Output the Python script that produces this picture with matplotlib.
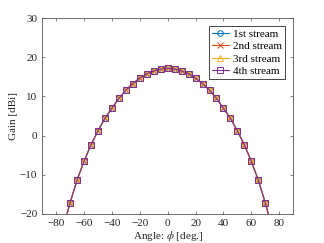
import numpy as np
import matplotlib
matplotlib.use("Agg")
import matplotlib.pyplot as plt

plt.rcParams['font.family'] = ['Liberation Serif', 'DejaVu Serif']
plt.rcParams['mathtext.fontset'] = 'stix'

angle = [-75, -70, -65, -60, -55, -50, -45, -40, -35, -30, -25, -20, -15, -10, -5, 0,
         5, 10, 15, 20, 25, 30, 35, 40, 45, 50, 55, 60, 65, 70, 75]
half = [-23.8, -17.2, -11.4, -6.6, -2.4, 1.2, 4.4, 7.0, 9.5, 11.6, 13.3, 14.7, 15.8, 16.5, 17.0]
gain1 = half + [17.2] + half[::-1]
gain2 = list(gain1)
gain3 = list(gain1)
gain4 = list(gain1)

labels = ['1st stream', '2nd stream', '3rd stream', '4th stream']
colors = ['#0072BD', '#D95319', '#EDB120', '#7E2F8E']
markers = ['o', 'x', '^', 's']

fig = plt.figure(figsize=(3.24, 2.43), dpi=100)
ax = fig.add_axes([0.13, 0.12, 0.775, 0.805])

for g, lab, c, m in zip([gain1, gain2, gain3, gain4], labels, colors, markers):
    ax.plot(angle, g, color=c, marker=m, markersize=4, linewidth=0.8,
            markerfacecolor='none', markeredgewidth=0.7, label=lab)

ax.set_xlim(-90, 90)
ax.set_ylim(-20, 30)
ax.set_xticks(np.arange(-80, 81, 20))
ax.set_yticks(np.arange(-20, 31, 10))
ax.tick_params(labelsize=8, direction='in', length=2.5, width=0.5, top=True, right=True,
               color='#555555', labelcolor='#262626')
for s in ax.spines.values():
    s.set_linewidth(0.6)
    s.set_color('#555555')
ax.set_xlabel(r'Angle: $\phi$ [deg.]', fontsize=8, labelpad=1, color='#262626')
ax.set_ylabel('Gain [dBi]', fontsize=8, labelpad=1, color='#262626')

leg = ax.legend(loc='upper right', fontsize=8, fancybox=False, framealpha=1,
                edgecolor='#262626', handlelength=1.5, borderpad=0.3,
                labelspacing=0.22, handletextpad=0.4, borderaxespad=0.7)
leg.get_frame().set_linewidth(0.6)

fig.savefig('out.png', dpi=100)
